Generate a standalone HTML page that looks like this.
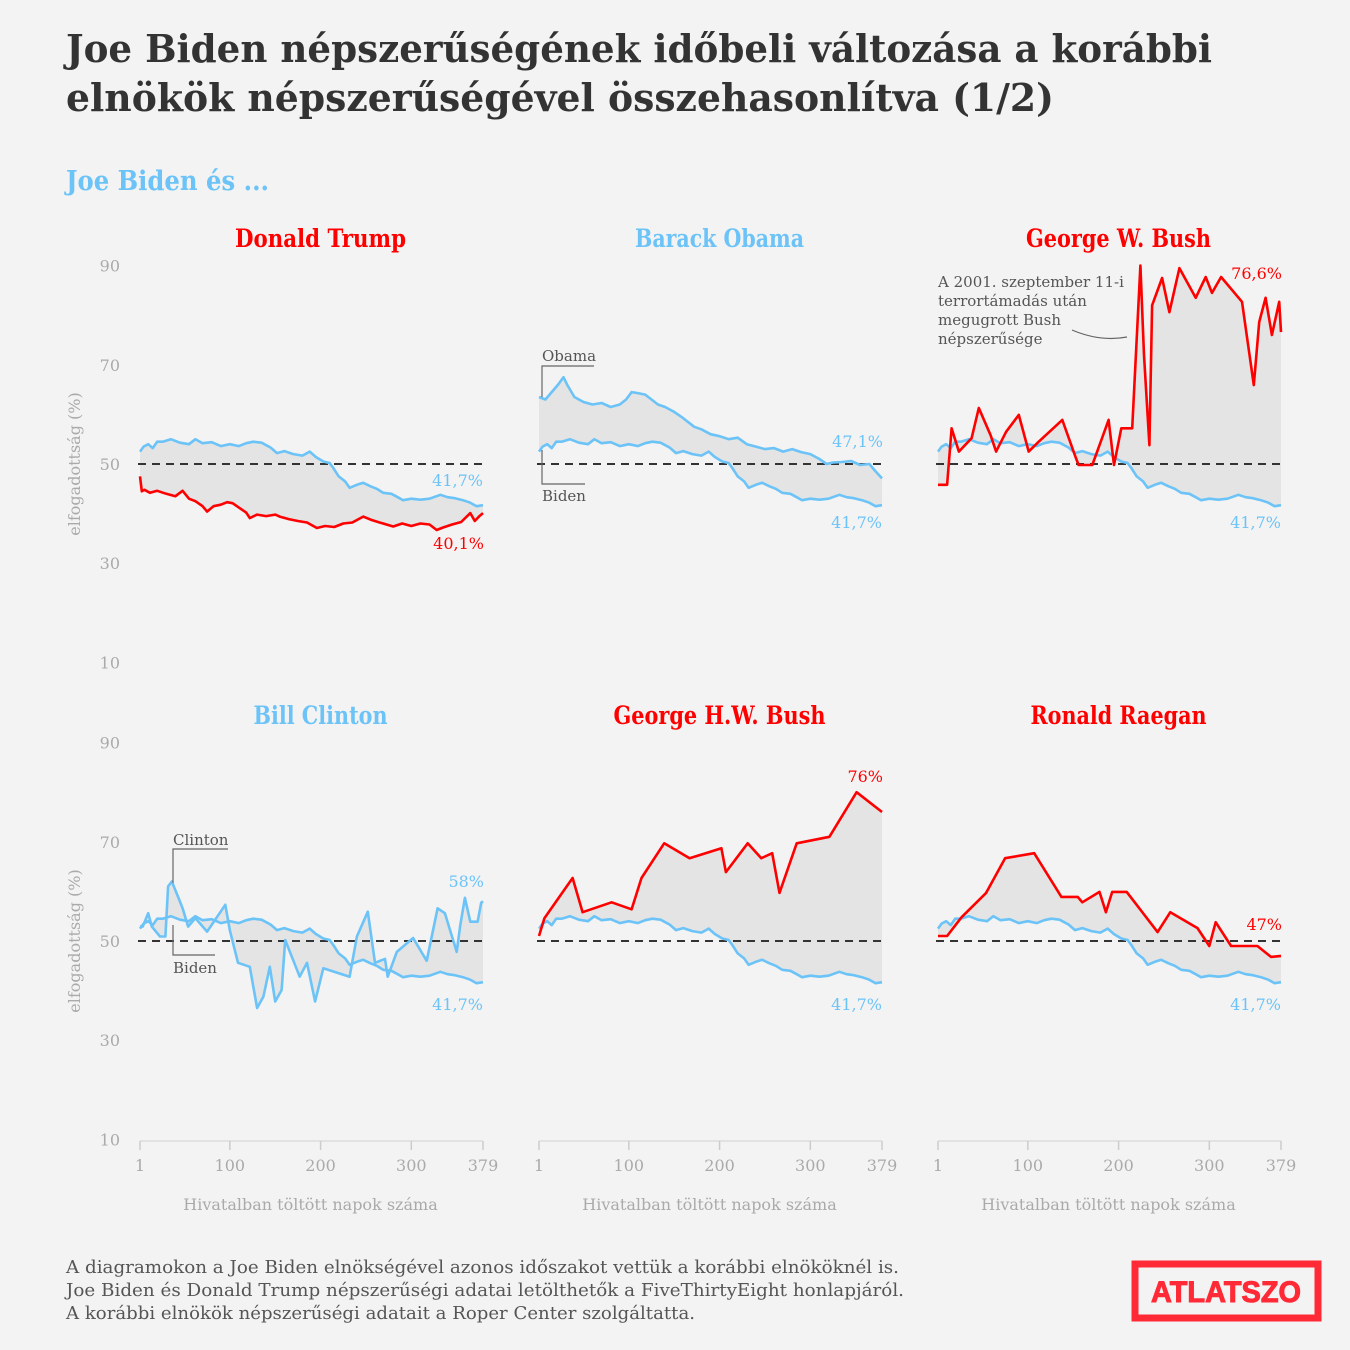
<!DOCTYPE html>
<html><head><meta charset="utf-8"><style>
html,body{margin:0;padding:0;background:#f3f3f3}
svg{display:block}
.serif{font-family:"DejaVu Serif","Liberation Serif",serif}
</style></head><body>
<svg id="chart" width="1350" height="1350" viewBox="0 0 1350 1350" xmlns="http://www.w3.org/2000/svg">
<rect x="0" y="0" width="1350" height="1350" fill="#f3f3f3"/>
<text class="serif" x="66" y="62" font-size="38" font-weight="bold" fill="#333" textLength="1146" lengthAdjust="spacingAndGlyphs">Joe Biden népszerűségének időbeli változása a korábbi</text>
<text class="serif" x="66" y="111" font-size="38" font-weight="bold" fill="#333" textLength="988" lengthAdjust="spacingAndGlyphs">elnökök népszerűségével összehasonlítva (1/2)</text>
<text class="serif" x="66" y="190" font-size="27" font-weight="bold" fill="#6cc3f7" textLength="203" lengthAdjust="spacingAndGlyphs">Joe Biden és ...</text>
<g id="panels"></g>
<g class="serif" font-size="18" fill="#555">
<text x="66" y="1273" textLength="833" lengthAdjust="spacingAndGlyphs">A diagramokon a Joe Biden elnökségével azonos időszakot vettük a korábbi elnököknél is.</text>
<text x="66" y="1296" textLength="838" lengthAdjust="spacingAndGlyphs">Joe Biden és Donald Trump népszerűségi adatai letölthetők a FiveThirtyEight honlapjáról.</text>
<text x="66" y="1319" textLength="629" lengthAdjust="spacingAndGlyphs">A korábbi elnökök népszerűségi adatait a Roper Center szolgáltatta.</text>
</g>
<g>
<rect x="1135" y="1264" width="183" height="54" fill="none" stroke="#ff2a36" stroke-width="7"/>
<text x="1226" y="1302" text-anchor="middle" font-family="Liberation Sans, sans-serif" font-weight="bold" font-size="30" fill="#ff2a36" stroke="#ff2a36" stroke-width="1" textLength="150" lengthAdjust="spacingAndGlyphs">ATLATSZO</text>
</g>
</svg>
<script>
const bidenDays=[1,5,10,15,20,26,35,45,55,62,70,80,90,100,110,118,126,135,145,152,160,170,180,188,195,203,210,214,220,227,232,240,247,255,262,269,278,285,291,300,310,320,332,340,348,357,365,372,379];
const bidenVals=[52.5,53.5,54,53.2,54.5,54.5,55,54.3,54,55,54.2,54.4,53.6,54,53.6,54.2,54.5,54.3,53.3,52.2,52.6,52,51.7,52.5,51.4,50.5,50.2,49.2,47.5,46.5,45.2,45.8,46.2,45.5,45,44.2,44,43.3,42.7,43,42.8,43,43.8,43.3,43.1,42.7,42.2,41.5,41.7];
const trumpDays=[1,3,6,12,20,30,40,48,55,62,70,75,82,90,97,103,110,118,122,130,140,150,155,165,175,185,196,205,215,225,235,247,255,265,280,290,300,310,320,328,335,345,355,365,370,375,379];
const trumpVals=[47.5,44.5,44.8,44.2,44.6,44,43.5,44.6,43,42.5,41.5,40.4,41.5,41.8,42.3,42.1,41.2,40.2,39.1,39.8,39.5,39.8,39.4,38.9,38.5,38.2,37.1,37.5,37.3,38,38.2,39.4,38.8,38.2,37.4,38,37.5,38,37.8,36.7,37.2,37.8,38.3,40.1,38.5,39.5,40.1];
const obamaDays=[1,8,15,22,28,32,40,50,60,70,80,90,97,103,110,118,125,132,140,150,158,165,172,180,190,200,210,220,230,240,250,260,270,280,290,300,310,318,325,335,345,355,365,372,379];
const obamaVals=[63.5,63,64.5,66,67.5,66,63.5,62.5,62,62.3,61.5,62,63,64.5,64.3,64,63,62,61.5,60.5,59.5,58.5,57.5,57,56,55.6,55,55.3,54,53.5,53,53.2,52.5,53,52.4,52,51,50,50.3,50.4,50.6,49.8,50,48.5,47.1];
const gwbDays=[1,4,11,16,24,38,46,59,65,76,90,101,112,138,153,156,171,181,189,195,203,215,224,228,234,237,248,256,267,285,296,303,313,336,349,355,362,369,377,379];
const gwbVals=[45.8,45.8,45.8,57.2,52.5,55.2,61.3,55.8,52.5,56.5,59.9,52.5,54.5,58.9,51.2,49.8,49.8,54.8,58.9,49.8,57.2,57.2,90,72,53.8,82,87.5,80.6,89.5,83.5,87.7,84.5,87.7,82.7,65.9,78.6,83.5,76,82.7,76.6];
const clintonDays=[1,4,10,14,23,29,32,36,43,48,54,62,75,95,100,109,122,130,137,144,150,157,161,177,185,194,203,232,240,252,260,271,274,284,302,317,329,337,350,354,359,365,373,377,379];
const clintonVals=[53,52.9,55.6,52.9,50.9,50.9,61,62,58.9,56.6,52.9,54.6,51.9,57.3,52.2,45.6,44.8,36.5,38.8,44.8,37.8,40.1,50.2,42.8,45.6,37.8,44.5,42.8,50.9,55.9,45.6,46.4,42.8,47.8,50.6,46,56.6,55.6,47.8,53.2,58.7,53.9,53.9,57.7,58];
const ghwDays=[1,7,38,49,81,103,114,139,167,202,207,231,246,258,266,285,321,351,379];
const ghwVals=[51,54.6,62.7,55.8,57.8,56.4,62.7,69.7,66.7,68.7,63.9,69.7,66.7,67.7,59.7,69.7,71,80,76];
const reaganDays=[1,11,27,54,75,107,137,155,160,179,186,193,209,243,257,287,300,307,324,353,368,379];
const reaganVals=[51,51,54.8,59.7,66.7,67.7,58.9,58.9,57.8,59.9,55.8,59.9,59.9,51.8,55.8,52.6,49,53.8,49,49,46.8,47];
const yTicks=[10,30,50,70,90];
const xTicks=[1,100,200,300,379];

const BLUE="#6cc3f7",RED="#ff0000",NS="http://www.w3.org/2000/svg";
const panels=[
 {name:"Donald Trump",color:RED,days:trumpDays,vals:trumpVals,col:0,row:0,slug:"trump",tw:171,ly:549,by:486},
 {name:"Barack Obama",color:BLUE,days:obamaDays,vals:obamaVals,col:1,row:0,slug:"obama",tw:169,ly:447,by:528},
 {name:"George W. Bush",color:RED,days:gwbDays,vals:gwbVals,col:2,row:0,slug:"gw-bush",tw:185,ly:279,by:528},
 {name:"Bill Clinton",color:BLUE,days:clintonDays,vals:clintonVals,col:0,row:1,slug:"clinton",tw:134,ly:887,by:1010},
 {name:"George H.W. Bush",color:RED,days:ghwDays,vals:ghwVals,col:1,row:1,slug:"ghw-bush",tw:212,ly:782,by:1010},
 {name:"Ronald Raegan",color:RED,days:reaganDays,vals:reaganVals,col:2,row:1,slug:"reagan",tw:176,ly:930,by:1010}
];
const root=document.getElementById('panels');
function mk(tag,attrs,parent,text){const e=document.createElementNS(NS,tag);for(const k in attrs)e.setAttribute(k,attrs[k]);if(text!==undefined)e.textContent=text;(parent||root).appendChild(e);return e;}
function txt(x,y,s,size,fill,anchor,parent,extra){const e=mk('text',Object.assign({x:x,y:y,'font-size':size,fill:fill,'text-anchor':anchor||'start','font-family':'DejaVu Serif, Liberation Serif, serif'},extra||{}),parent,s);return e;}

panels.forEach(p=>{
 const x0=140+p.col*399,x1=x0+343;
 const y50=p.row?941:464;
 const xs=d=>x0+(d-1)/378*(x1-x0);
 const ys=v=>y50-(v-50)*4.96;
 const g=mk('g',{});
 
 
 const t=txt((x0+x1)/2+9,p.row?724:247,p.name,25,p.color,'middle',g,{'font-weight':'bold',textLength:p.tw,lengthAdjust:'spacingAndGlyphs'});
 
 
 const a=p.days.map((d,i)=>xs(d).toFixed(1)+','+ys(p.vals[i]).toFixed(1));
 const b=bidenDays.map((d,i)=>xs(d).toFixed(1)+','+ys(bidenVals[i]).toFixed(1));
 const band=mk('polygon',{points:a.concat(b.slice().reverse()).join(' '),fill:'#e4e4e4'},g);
 
 
 const dash=mk('line',{x1:x0-2,x2:x1,y1:y50,y2:y50,stroke:'#333','stroke-width':2,'stroke-dasharray':'8,6'},g);
 
 
 const bl=mk('polyline',{points:b.join(' '),fill:'none',stroke:BLUE,'stroke-width':2.6,'stroke-linejoin':'round'},g);
 
 
 const pl=mk('polyline',{points:a.join(' '),fill:'none',stroke:p.color,'stroke-width':2.6,'stroke-linejoin':'round'},g);
 
 
 if(p.col===0){
  yTicks.forEach(v=>{const e=txt(120,ys(v)+6,String(v),16,'#aaa','end',g);
   
   });
  const yt=txt(0,0,'elfogadottság (%)',16,'#aaa','middle',g,{transform:'translate(80,'+y50+') rotate(-90)'});
  
  
 }
 if(p.row===1){
  const ax=mk('line',{x1:x0,x2:x1,y1:1141,y2:1141,stroke:'#ddd','stroke-width':1.5},g);
  
  
  xTicks.forEach(d=>{
   const tk=mk('line',{x1:xs(d),x2:xs(d),y1:1141,y2:1150,stroke:'#ccc','stroke-width':1.5},g);
   
   
   const e=txt(xs(d),1171,String(d),16,'#aaa','middle',g);
   
   });
  const xt=txt((x0+x1)/2-1,1210,'Hivatalban töltött napok száma',16,'#aaa','middle',g);
  
  
 }
 const bEnd=bidenVals[bidenVals.length-1], pEnd=p.vals[p.vals.length-1];
 const bl2=txt(x1,p.by,String(bEnd).replace('.',',')+'%',16,BLUE,'end',g);
 
 
 const pl2=txt(x1+1,p.ly,String(pEnd).replace('.',',')+'%',16,p.color,'end',g);
 
 
});

const ann=mk('g',{stroke:'#666','stroke-width':1.2,fill:'none'});


mk('path',{d:'M542,397 V366 H594 M542,450 V484 H585 M173,883 V849 H228 M173,925 V955 H215 M1072,330 Q1100,342 1127,337'},ann);
const at=mk('g',{});


[[542,361,'Obama'],[542,501,'Biden'],[173,845,'Clinton'],[173,973,'Biden'],
 [938,287,'A 2001. szeptember 11-i'],[938,306,'terrortámadás után'],[938,325,'megugrott Bush'],[938,344,'népszerűsége']].forEach(r=>{
 const e=txt(r[0],r[1],r[2],15,'#555','start',at);
 
 
});
</script>
</body></html>
